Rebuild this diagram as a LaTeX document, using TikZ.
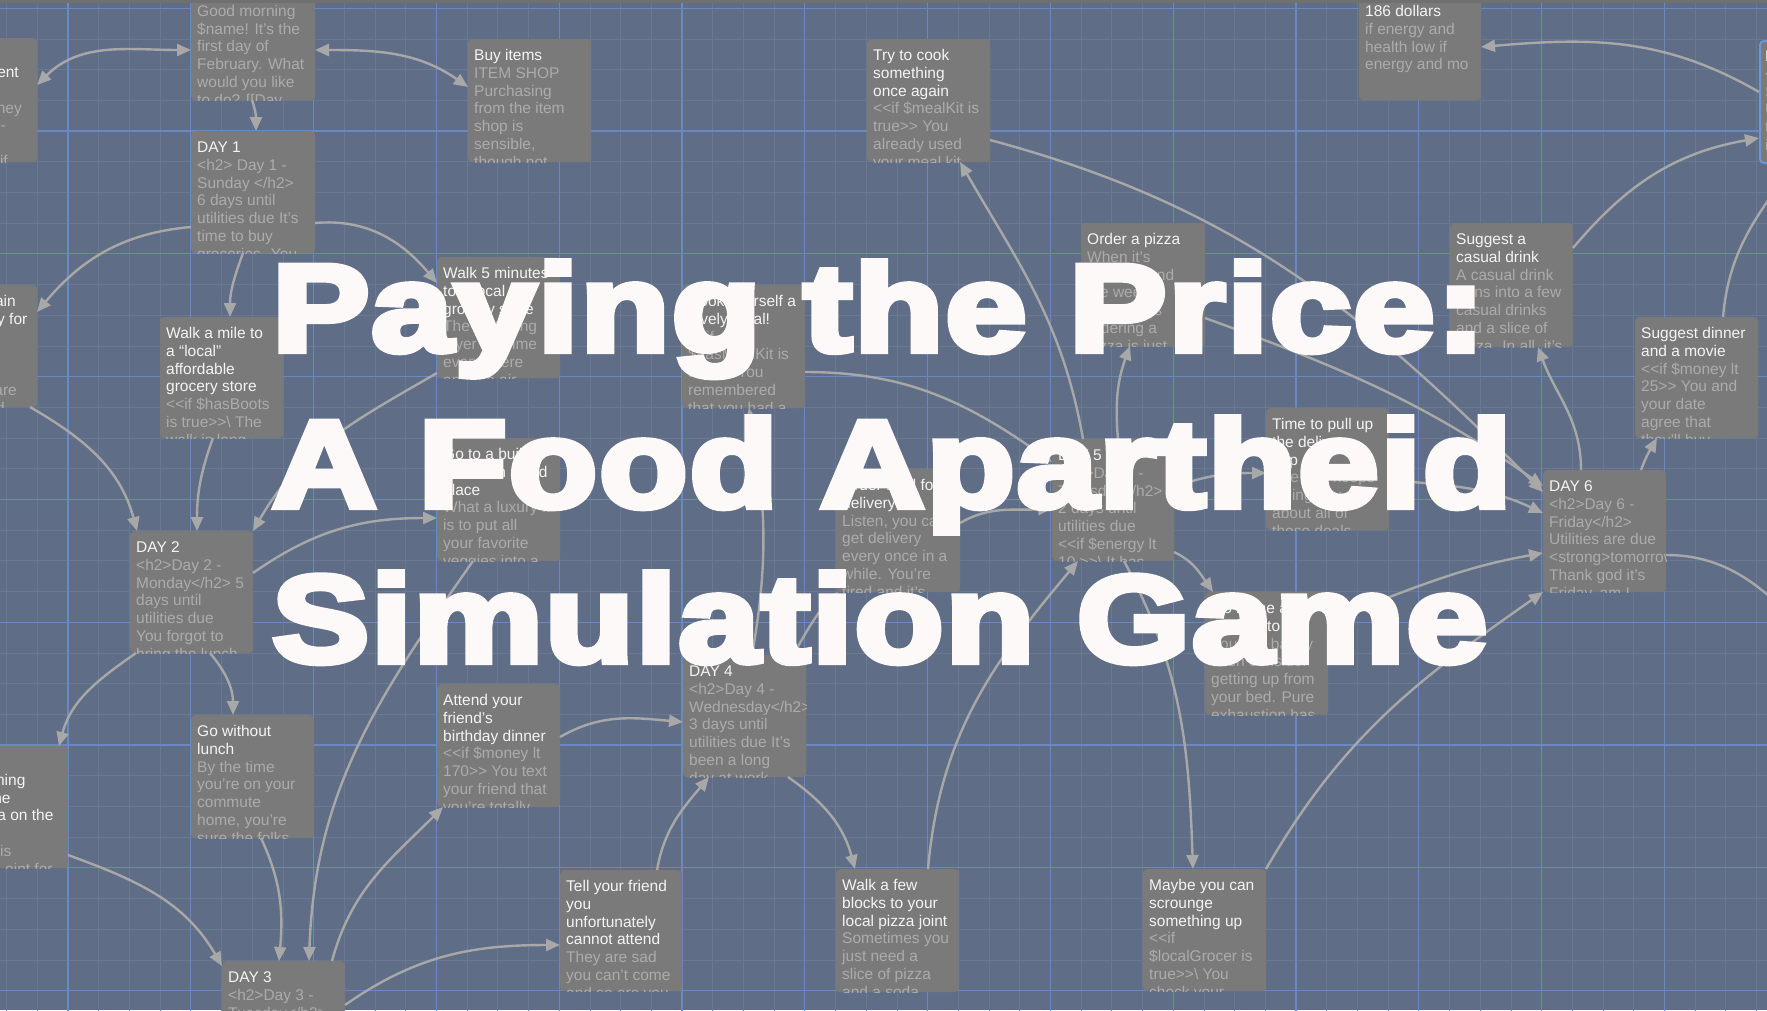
\documentclass[tikz,border=0pt]{standalone}
\usepackage{fontspec}
\usepackage{graphicx}
\setmainfont{Liberation Sans}
\newfontfamily\tfont{Liberation Sans}[BoldFeatures={FakeBold=5},LetterSpace=1.5]
\usetikzlibrary{arrows.meta}
\definecolor{bgc}{RGB}{95,110,134}
\definecolor{minc}{RGB}{105,121,147}
\definecolor{majc}{RGB}{104,138,192}
\definecolor{nodec}{RGB}{122,122,122}
\definecolor{ttlc}{RGB}{244,244,244}
\definecolor{excc}{RGB}{172,172,172}
\definecolor{arrc}{RGB}{168,168,168}
\definecolor{selc}{RGB}{110,150,215}
\definecolor{barc}{RGB}{112,112,112}
\definecolor{titc}{RGB}{253,249,248}
\newcommand\psgfont{\fontsize{15.5pt}{17.8pt}\selectfont}
\newcommand\LL{<\kern0pt<}
\newcommand\GG{>\kern0pt>}
\tikzset{
  psgbox/.style={fill=nodec, rounded corners=4pt, inner sep=0pt, draw=none},
  selbox/.style={draw=selc, line width=2pt},
  arr/.style={draw=arrc, line width=2.4pt, -{Triangle[length=14pt,width=12pt]}},
  arr2/.style={draw=arrc, line width=2.4pt, {Triangle[length=14pt,width=12pt]}-{Triangle[length=14pt,width=12pt]}},
  frag/.style={inner sep=0pt, anchor=base east, font=\psgfont},
  gminor/.style={draw=minc, line width=0.8pt},
  gmajor/.style={draw=majc, line width=1.3pt},
  bigtitle/.style={inner sep=0pt, anchor=base west, text=titc, font={\tfont\bfseries\fontsize{124pt}{150pt}\selectfont}}
}
\newcommand\psg[8][]{%
  \node[psgbox,#1,minimum width=#5pt,minimum height=#6pt,anchor=north west] (#2) at (#3,#4) {};
  \begin{scope}
    \clip[rounded corners=4pt] (#2.south west) rectangle (#2.north east);
    \node[inner sep=0pt,anchor=base west] (#2-t) at ([shift={(6,21.5)}]#2.north west)
      {\parbox[t]{300pt}{\psgfont\leavevmode\color{ttlc}#7\\\color{excc}#8}};
  \end{scope}
}
\begin{document}
\begin{tikzpicture}[x=1pt,y=-1pt]
\path[use as bounding box] (0,0) rectangle (1767,1010);
\clip (0,0) rectangle (1767,1010);
\fill[bgc] (0,0) rectangle (1767,1010);
% grid
\foreach \i in {-3,...,56} \draw[gminor] ({68+\i*30.7},-5) -- ++(0,1020);
\foreach \i in {-5,...,29} \draw[gminor] (-5,{131+\i*30.7}) -- ++(1777,0);
\foreach \i in {-1,...,14} \draw[gmajor] ({68+\i*122.8},-5) -- ++(0,1020);
\foreach \i in {-2,...,7} \draw[gmajor] (-5,{131+\i*122.8}) -- ++(1777,0);

% passages
\psg{p1}{-86}{38}{123}{124}{\mbox{}}{\mbox{}}
\begin{scope}
  \clip (p1.south west) rectangle (p1.north east);
  \node[frag,text=ttlc] (p1a) at (19,77.3) {ent};
  \node[frag,text=excc] (p1b) at (22,113) {ney};
  \node[frag,text=excc] (p1c) at (6,130.7) {-};
  \node[frag,text=excc] (p1d) at (8,166.3) {if};
\end{scope}
\psg{gm}{191}{-23}{124}{123}{\mbox{}}{Good morning\\\$name! It's the\\first day of\\February. What\\would you like\\to do? [[Day}
\psg{buy}{468}{39}{123}{123}{Buy items}{ITEM SHOP\\Purchasing\\from the item\\shop is\\sensible,\\though not}
\psg{day1}{191}{131}{124}{122}{DAY 1}{<h2> Day 1 -\\Sunday </h2>\\6 days until\\utilities due It's\\time to buy\\groceries. You}
\psg{p2}{-86}{285}{123}{122}{\mbox{}}{\mbox{}}
\begin{scope}
  \clip (p2.south west) rectangle (p2.north east);
  \node[frag,text=ttlc] (p2a) at (16,306.5) {ain};
  \node[frag,text=ttlc] (p2b) at (27.5,324.3) {y for};
  \node[frag,text=excc] (p2c) at (17,395.5) {are};
  \node[frag,text=excc] (p2d) at (5,413.3) {d};
\end{scope}
\psg{mile}{160}{317}{123}{121}{Walk a mile to\\a “local”\\affordable\\grocery store}{\LL if \$hasBoots\\is true\GG\textbackslash{} The\\walk is long}
\psg{w5}{437}{257}{123}{121}{Walk 5 minutes\\to a local\\grocery store}{The first thing\\layer of grime\\everywhere\\and the air}
\psg{cook}{682}{285}{123}{123}{Cook yourself a\\lovely meal!}{\LL if\\\$hasMealKit is\\true\GG{} You\\remembered\\that you had a}
\psg{try}{867}{39}{123}{123}{Try to cook\\something\\once again}{\LL if \$mealKit is\\true\GG{} You\\already used\\your meal kit}
\psg{d186}{1359}{-5}{122}{105}{186 dollars}{if energy and\\health low if\\energy and mo}
\psg[selbox]{day7}{1759}{40}{123}{122}{DAY 7}{<h2>Day 7 -\\Saturday</h2>\\Utilities are\\today\\it}
\psg{pizza}{1081}{223}{124}{123}{Order a pizza}{When it's\\near the end\\the week,\\sometimes\\ordering a\\pizza is just}
\psg{drink}{1450}{223}{123}{124}{Suggest a\\casual drink}{A casual drink\\turns into a few\\casual drinks\\and a slice of\\pizza. In all, it's}
\psg{time}{1266}{408}{123}{122}{Time to pull up\\the delivery\\app}{The app keeps\\telling you\\about all of\\those deals}
\psg{dinner}{1635}{317}{123}{121}{Suggest dinner\\and a movie}{\LL if \$money lt\\25\GG{} You and\\your date\\agree that\\they'll buy}
\psg{day6}{1543}{470}{123}{122}{DAY 6}{<h2>Day 6 -\\Friday</h2>\\Utilities are due\\<strong>tomorrow</strong>\\Thank god it's\\Friday, am I}
\psg{salad}{437}{438}{123}{123}{Go to a build\\your own salad\\place}{What a luxury it\\is to put all\\your favorite\\veggies into a}
\psg{day2}{130}{531}{123}{122}{DAY 2}{<h2>Day 2 -\\Monday</h2> 5\\days until\\utilities due\\You forgot to\\bring the lunch}
\psg{food}{836}{469}{124}{123}{Order food for\\delivery}{Listen, you can\\get delivery\\every once in a\\while. You're\\tired and it's}
\psg{day5}{1052}{439}{122}{122}{DAY 5}{<h2>Day 5 -\\Thursday</h2>\\2 days until\\utilities due\\\LL if \$energy lt\\10 \GG\textbackslash{} It has}
\psg{home}{1205}{592}{123}{123}{Go home and\\attempt to eat}{You can barely\\even consider\\getting up from\\your bed. Pure\\exhaustion has}
\psg{p3}{-55}{746}{123}{122}{\mbox{}}{\mbox{}}
\begin{scope}
  \clip (p3.south west) rectangle (p3.north east);
  \node[frag,text=ttlc] (p3a) at (25.6,785.3) {hing};
  \node[frag,text=ttlc] (p3b) at (10.7,803.1) {ne};
  \node[frag,text=ttlc] (p3c) at (53.6,820.9) {a on the};
  \node[frag,text=excc] (p3d) at (11.5,856.5) {is};
  \node[frag,text=excc] (p3e) at (52.8,874.3) {oint for};
\end{scope}
\psg{gwl}{191}{715}{123}{123}{Go without\\lunch}{By the time\\you're on your\\commute\\home, you're\\sure the folks}
\psg{attend}{437}{684}{123}{123}{Attend your\\friend's\\birthday dinner}{\LL if \$money lt\\170\GG{} You text\\your friend that\\you're totally}
\psg{day4}{683}{655}{123}{122}{DAY 4}{<h2>Day 4 -\\Wednesday</h2>\\3 days until\\utilities due It's\\been a long\\day at work}
\psg{day3}{222}{961}{123}{123}{DAY 3}{<h2>Day 3 -\\Tuesday</h2>}
\psg{tell}{560}{870}{122}{121}{Tell your friend\\you\\unfortunately\\cannot attend}{They are sad\\you can't come\\and so are you}
\psg{few}{836}{869}{123}{123}{Walk a few\\blocks to your\\local pizza joint}{Sometimes you\\just need a\\slice of pizza\\and a soda}
\psg{maybe}{1143}{869}{123}{122}{Maybe you can\\scrounge\\something up}{\LL if\\\$localGrocer is\\true\GG\textbackslash{} You\\check your}
\coordinate (offR) at (1830,650);

% connectors
\draw[arr2] ([shift={(123,47)}]p1.north west) to[out=45,in=180] ([shift={(0,73)}]gm.north west);
\draw[arr2] ([shift={(124,73)}]gm.north west) to[out=0,in=145] ([shift={(0,48)}]buy.north west);
\draw[arr] ([shift={(61,123)}]gm.north west) to[out=-70,in=90] ([shift={(65,0)}]day1.north west);
\draw[arr] ([shift={(0,96)}]day1.north west) to[out=185,in=50] ([shift={(123,27)}]p2.north west);
\draw[arr] ([shift={(52,122)}]day1.north west) to[out=250,in=90] ([shift={(70,0)}]mile.north west);
\draw[arr] ([shift={(124,92)}]day1.north west) to[out=5,in=130] ([shift={(0,26)}]w5.north west);
\draw[arr] ([shift={(116,122)}]p2.north west) to[out=-30,in=105] ([shift={(7,0)}]day2.north west);
\draw[arr] ([shift={(53,121)}]mile.north west) to[out=250,in=90] ([shift={(67,0)}]day2.north west);
\draw[arr] ([shift={(0,116)}]w5.north west) to[out=210,in=60] ([shift={(123,0)}]day2.north west);
\draw[arr] ([shift={(123,42)}]day2.north west) to[out=35,in=180] ([shift={(0,80)}]salad.north west);
\draw[arr] ([shift={(36,123)}]salad.north west) to[out=235,in=88] ([shift={(87,0)}]day3.north west);
\draw[arr] ([shift={(6,122)}]day2.north west) to[out=215,in=75] ([shift={(114,0)}]p3.north west);
\draw[arr] ([shift={(80,122)}]day2.north west) to[out=-50,in=90] ([shift={(42,0)}]gwl.north west);
\draw[arr] ([shift={(123,109)}]p3.north west) to[out=-20,in=120] ([shift={(0,5)}]day3.north west);
\draw[arr] ([shift={(70,123)}]gwl.north west) to[out=-65,in=85] ([shift={(57,0)}]day3.north west);
\draw[arr] ([shift={(110,0)}]day3.north west) to[out=75,in=225] ([shift={(6,123)}]attend.north west);
\draw[arr] ([shift={(123,44)}]day3.north west) to[out=35,in=180] ([shift={(0,75)}]tell.north west);
\draw[arr] ([shift={(123,53)}]attend.north west) to[out=30,in=175] ([shift={(0,67)}]day4.north west);
\draw[arr] ([shift={(97,0)}]tell.north west) to[out=80,in=230] ([shift={(26,122)}]day4.north west);
\draw[arr] ([shift={(105,122)}]day4.north west) to[out=-35,in=105] ([shift={(19,0)}]few.north west);
\draw[arr] ([shift={(92,0)}]few.north west) to[out=85,in=230] ([shift={(26,122)}]day5.north west);
\draw[arr] ([shift={(69,0)}]day4.north west) to[out=80,in=-80] ([shift={(67,123)}]cook.north west);
\draw[arr] ([shift={(110,0)}]day4.north west) to[out=60,in=225] ([shift={(2,123)}]food.north west);
\draw[arr] ([shift={(124,54)}]food.north west) to[out=30,in=185] ([shift={(0,69)}]day5.north west);
\draw[arr] ([shift={(123,87)}]cook.north west) to[out=0,in=145] ([shift={(0,23)}]day5.north west);
\draw[arr] ([shift={(31,0)}]day5.north west) to[out=100,in=-60] ([shift={(93,123)}]try.north west);
\draw[arr] ([shift={(123,101)}]try.north west) to[out=-15,in=135] ([shift={(0,22)}]day6.north west);
\draw[arr] ([shift={(66,0)}]day5.north west) to[out=95,in=-110] ([shift={(49,123)}]pizza.north west);
\draw[arr] ([shift={(124,95)}]pizza.north west) to[out=-20,in=145] ([shift={(0,16)}]day6.north west);
\draw[arr] ([shift={(123,72)}]time.north west) to[out=-5,in=155] ([shift={(0,43)}]day6.north west);
\draw[arr] ([shift={(122,48)}]day5.north west) to[out=20,in=180] ([shift={(0,65)}]time.north west);
\draw[arr] ([shift={(38,0)}]day6.north west) to[out=90,in=-70] ([shift={(88,124)}]drink.north west);
\draw[arr] ([shift={(98,0)}]day6.north west) to[out=70,in=-120] ([shift={(22,121)}]dinner.north west);
\draw[arr] ([shift={(123,25)}]drink.north west) to[out=50,in=190] ([shift={(0,98)}]day7.north west);
\draw[arr] ([shift={(0,52)}]day7.north west) to[out=150,in=5] ([shift={(122,52)}]d186.north west);
\draw[arr] ([shift={(88,0)}]dinner.north west) to[out=85,in=235] ([shift={(36,122)}]day7.north west);
\draw[arr] ([shift={(123,85)}]day6.north west) to[out=0,in=140] (offR);
\draw[arr] ([shift={(123,0)}]maybe.north west) to[out=60,in=215] ([shift={(0,122)}]day6.north west);
\draw[arr] ([shift={(123,28)}]home.north west) to[out=20,in=190] ([shift={(0,83)}]day6.north west);
\draw[arr] ([shift={(122,113)}]day5.north west) to[out=-25,in=125] ([shift={(8,0)}]home.north west);
\draw[arr] ([shift={(72,122)}]day5.north west) to[out=-62,in=92] ([shift={(50,0)}]maybe.north west);

% top bar
\fill[barc] (0,0) rectangle (1767,3);

% title
\node[bigtitle] (t1) at (272,351) {\resizebox{1213pt}{\height}{Paying the Price:}};
\node[bigtitle] (t2) at (272,507) {\resizebox{1239pt}{\height}{A Food Apartheid}};
\node[bigtitle] (t3) at (272,662) {\resizebox{1215pt}{\height}{Simulation Game}};
\end{tikzpicture}
\end{document}
